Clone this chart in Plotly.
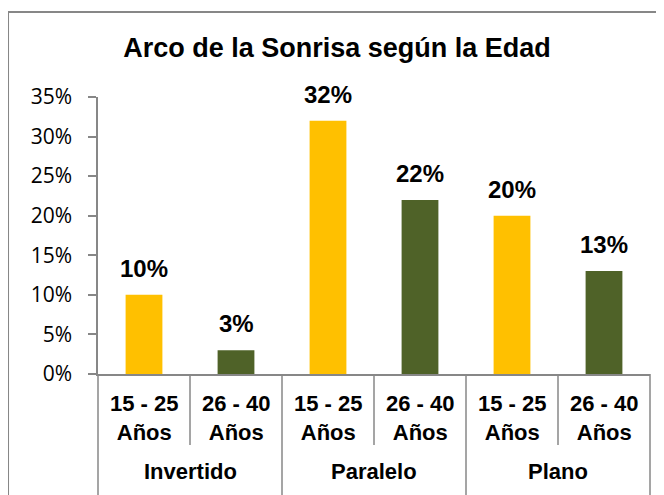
import plotly.graph_objects as go

# ---- data ----
groups = ["Invertido", "Paralelo", "Plano"]
age_labels = ["15 - 25<br>Años", "26 - 40<br>Años"]
values_15_25 = [0.10, 0.32, 0.20]
values_26_40 = [0.03, 0.22, 0.13]
y_ticks = [0, 0.05, 0.10, 0.15, 0.20, 0.25, 0.30, 0.35]

title_text = "Arco de la Sonrisa según la Edad"
YELLOW = "#FFC000"
GREEN = "#4F6228"
AXIS = "#878787"

n_groups = len(groups)
n_ages = len(age_labels)
n_cats = n_groups * n_ages

x_young = [g * n_ages + 0 for g in range(n_groups)]
x_old = [g * n_ages + 1 for g in range(n_groups)]

fig = go.Figure()
fig.add_trace(go.Bar(x=x_young, y=values_15_25, width=0.4, marker_color=YELLOW,
                     marker_line_width=0, name="15 - 25 Años"))
fig.add_trace(go.Bar(x=x_old, y=values_26_40, width=0.4, marker_color=GREEN,
                     marker_line_width=0, name="26 - 40 Años"))

annotations = []
# data labels
for xs, vs in ((x_young, values_15_25), (x_old, values_26_40)):
    for x, v in zip(xs, vs):
        annotations.append(dict(x=x, y=v, xref="x", yref="y", text=f"<b>{round(v*100)}%</b>",
                                showarrow=False, yanchor="bottom", yshift=11,
                                font=dict(family="Liberation Sans, Arial", size=24, color="black")))
# category labels
for g in range(n_groups):
    for a in range(n_ages):
        annotations.append(dict(x=g * n_ages + a, y=-0.055, xref="x", yref="paper",
                                text=f"<b>{age_labels[a]}</b>", showarrow=False, yanchor="top",
                                font=dict(family="Liberation Sans, Arial", size=22, color="black")))
    annotations.append(dict(x=g * n_ages + (n_ages - 1) / 2, y=-0.30, xref="x", yref="paper",
                            text=f"<b>{groups[g]}</b>", showarrow=False, yanchor="top",
                            font=dict(family="Liberation Sans, Arial", size=22, color="black")))

shapes = []
# dividers between categories / groups
for k in range(n_cats + 1):
    xp = k / n_cats
    y1 = -0.6 if k % n_ages == 0 else -0.256
    shapes.append(dict(type="line", xref="paper", yref="paper", x0=xp, x1=xp, y0=0, y1=y1,
                       line=dict(color=AXIS, width=1.5)))
# outer border of the chart
shapes.append(dict(type="rect", xref="paper", yref="paper", x0=-0.163, x1=1.2, y0=-0.6, y1=1.307,
                   line=dict(color=AXIS, width=2), fillcolor="rgba(0,0,0,0)"))

fig.update_layout(
    width=656, height=487,
    margin=dict(l=90, r=14, t=89, b=121),
    paper_bgcolor="white", plot_bgcolor="white",
    showlegend=False,
    title=dict(text=f"<b>{title_text}</b>", x=0.5015, xref="container", xanchor="center",
               y=0.918, yref="container", yanchor="middle",
               font=dict(family="Liberation Sans, Arial", size=27, color="black")),
    xaxis=dict(range=[-0.5, n_cats - 0.5], showticklabels=False, showgrid=False, zeroline=False,
               showline=True, linecolor=AXIS, linewidth=1.5, ticks=""),
    yaxis=dict(range=[0, 0.35], tickvals=y_ticks, tickformat=".0%", showgrid=False, zeroline=False,
               showline=True, linecolor=AXIS, linewidth=1.5, ticks="outside", ticklen=8,
               tickcolor=AXIS, tickwidth=1.5, ticklabelstandoff=12,
               tickfont=dict(family="Open Sans", size=21, color="black")),
    annotations=annotations,
    shapes=shapes,
)

fig.write_html("out.html")
